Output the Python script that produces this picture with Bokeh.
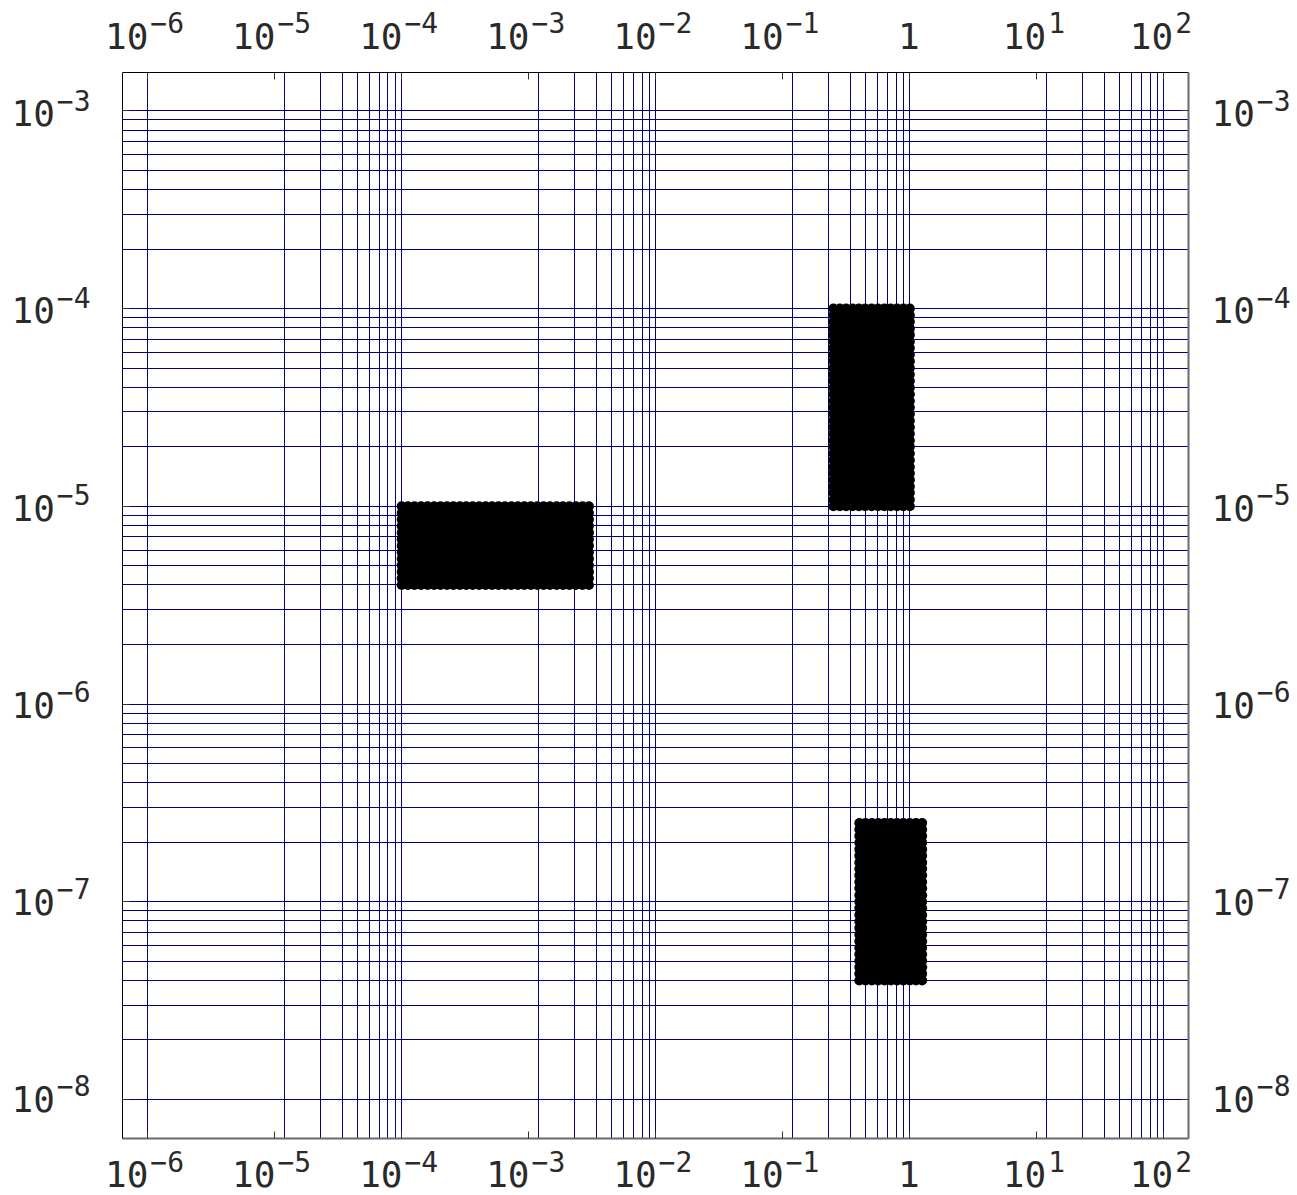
import math

from bokeh.plotting import figure
from bokeh.layouts import column, row
from bokeh.models import Range1d, FixedTicker, LogAxis, ColumnDataSource
from bokeh.core.properties import value
from bokeh.embed import file_html
from bokeh.resources import INLINE

# ---- axis ticks and their labels (base + superscript exponent) ----
x_ticks = [1e-6, 1e-5, 1e-4, 1e-3, 1e-2, 1e-1, 1.0, 1e1, 1e2]
x_label_base = ["10", "10", "10", "10", "10", "10", "1", "10", "10"]
x_label_exp = ["\u22126", "\u22125", "\u22124", "\u22123", "\u22122", "\u22121", "", "1", "2"]

y_ticks = [1e-8, 1e-7, 1e-6, 1e-5, 1e-4, 1e-3]
y_label_base = ["10", "10", "10", "10", "10", "10"]
y_label_exp = ["\u22128", "\u22127", "\u22126", "\u22125", "\u22124", "\u22123"]

# ---- grid line positions ----
x_grid_lines = [1e-6,
                1.2e-5, 2.3e-5, 3.4e-5, 4.5e-5, 5.6e-5, 6.7e-5, 7.8e-5, 8.9e-5, 1e-4,
                1.2e-3, 2.3e-3, 3.4e-3, 4.5e-3, 5.6e-3, 6.7e-3, 7.8e-3, 8.9e-3, 1e-2,
                0.12, 0.23, 0.34, 0.45, 0.56, 0.67, 0.78, 0.89, 1.0,
                12.0, 23.0, 34.0, 45.0, 56.0, 67.0, 78.0, 89.0, 100.0]
y_grid_mantissas = [1, 2, 3, 4, 5, 6, 7, 8, 9]
y_grid_decades = [-8, -7, -6, -5, -4]
y_grid_lines = [m * 10.0 ** e for e in y_grid_decades for m in y_grid_mantissas] + [1e-3]

# ---- point clouds: sampled x and y positions of each cluster ----
a_x = [1.00e-4, 1.12e-4, 1.26e-4, 1.42e-4, 1.60e-4, 1.80e-4, 2.02e-4, 2.27e-4, 2.55e-4, 2.87e-4,
       3.22e-4, 3.62e-4, 4.07e-4, 4.58e-4, 5.15e-4, 5.79e-4, 6.50e-4, 7.31e-4, 8.22e-4, 9.24e-4,
       1.04e-3, 1.17e-3, 1.31e-3, 1.47e-3, 1.66e-3, 1.86e-3, 2.09e-3, 2.35e-3, 2.65e-3, 2.98e-3]
a_y = [4.00e-6, 4.32e-6, 4.66e-6, 5.03e-6, 5.43e-6, 5.86e-6, 6.32e-6, 6.82e-6, 7.36e-6,
       7.95e-6, 8.58e-6, 9.26e-6, 1.00e-5]

b_x = [0.250, 0.281, 0.315, 0.354, 0.397, 0.445, 0.500, 0.561, 0.630, 0.707, 0.794, 0.891, 1.000]
b_y = [1.00e-5, 1.08e-5, 1.17e-5, 1.26e-5, 1.36e-5, 1.47e-5, 1.58e-5, 1.71e-5, 1.85e-5, 2.00e-5,
       2.15e-5, 2.33e-5, 2.51e-5, 2.71e-5, 2.93e-5, 3.16e-5, 3.41e-5, 3.69e-5, 3.98e-5, 4.30e-5,
       4.64e-5, 5.01e-5, 5.41e-5, 5.84e-5, 6.31e-5, 6.81e-5, 7.36e-5, 7.94e-5, 8.58e-5, 9.26e-5,
       1.00e-4]

c_x = [0.400, 0.448, 0.502, 0.563, 0.631, 0.708, 0.793, 0.889, 0.997, 1.117, 1.250]
c_y = [4.00e-8, 4.32e-8, 4.66e-8, 5.03e-8, 5.43e-8, 5.86e-8, 6.32e-8, 6.82e-8, 7.36e-8,
       7.95e-8, 8.58e-8, 9.26e-8, 1.00e-7, 1.08e-7, 1.17e-7, 1.26e-7, 1.36e-7, 1.47e-7,
       1.58e-7, 1.71e-7, 1.84e-7, 1.99e-7, 2.15e-7, 2.32e-7, 2.50e-7]


def cloud(xs, ys):
    return dict(x=[x for y in ys for x in xs], y=[y for y in ys for x in xs])


# ---- page geometry ----
PAGE_W, PAGE_H = 1297, 1195
FRAME = 1066
LEFT_W, TOP_H = 121, 71
MAIN_W = 1 + FRAME + 2
MAIN_H = 1 + FRAME + 2
RIGHT_W = PAGE_W - LEFT_W - MAIN_W
BOT_H = PAGE_H - TOP_H - MAIN_H

X0, X1 = 6.35e-7, 156.0
Y0, Y1 = 6.35e-9, 1.563e-3
LX0, LX1 = math.log10(X0), math.log10(X1)
LY0, LY1 = math.log10(Y0), math.log10(Y1)
PX_PER_DEC_X = FRAME / (LX1 - LX0)
PX_PER_DEC_Y = FRAME / (LY1 - LY0)
FRAME_LEFT = LEFT_W + 1

FONT = "DejaVu Sans Mono"
BASE_PX = 36
EXP_PX = 28
ADV = 0.602          # monospace advance width, in em
DROP = 0.346         # how far the drawn baseline sits below the text anchor, in em
GAP = 2
TEXT = "#2a2a2a"
GRID = "#000080"

# ---- main plot ----
fig = figure(width=MAIN_W, height=MAIN_H,
             x_axis_type="log", y_axis_type="log",
             x_range=Range1d(X0, X1), y_range=Range1d(Y0, Y1),
             output_backend="svg", toolbar_location=None,
             min_border_left=1, min_border_top=1,
             min_border_right=2, min_border_bottom=2)
fig.outline_line_color = None
fig.background_fill_color = "white"
fig.border_fill_color = "white"

fig.add_layout(LogAxis(), "above")
fig.add_layout(LogAxis(), "right")


def style_axis(ax, ticks, line_color, line_width):
    ax.ticker = FixedTicker(ticks=ticks, minor_ticks=[])
    ax.major_label_overrides = {t: "" for t in ticks}
    ax.major_label_text_font_size = "0px"
    ax.major_label_standoff = 0
    ax.major_tick_in = 7
    ax.major_tick_out = 0
    ax.major_tick_line_color = "#333333"
    ax.minor_tick_line_color = None
    ax.axis_line_color = line_color
    ax.axis_line_width = line_width


for ax in fig.below:
    style_axis(ax, x_ticks, "#6a6a6a", 2)
for ax in fig.above:
    style_axis(ax, x_ticks, "black", 1)
for ax in fig.left:
    style_axis(ax, y_ticks, "black", 1)
for ax in fig.right:
    style_axis(ax, y_ticks, "#6a6a6a", 2)

fig.xgrid.ticker = FixedTicker(ticks=x_grid_lines, minor_ticks=[])
fig.ygrid.ticker = FixedTicker(ticks=y_grid_lines, minor_ticks=[])
for g in (fig.xgrid, fig.ygrid):
    g.grid_line_color = GRID
    g.grid_line_width = 1
    g.grid_line_alpha = 1.0
    g.minor_grid_line_color = None

for xs, ys in ((a_x, a_y), (b_x, b_y), (c_x, c_y)):
    fig.scatter("x", "y", source=ColumnDataSource(cloud(xs, ys)), size=10,
                marker="circle", fill_color="black", line_color="black", line_width=0)


# ---- label strips around the plot ----
def strip(width, height, x_range, y_range, x_log=False, y_log=False):
    s = figure(width=width, height=height,
               x_axis_type="log" if x_log else "linear",
               y_axis_type="log" if y_log else "linear",
               x_range=x_range, y_range=y_range,
               x_axis_location=None, y_axis_location=None,
               output_backend="svg", toolbar_location=None,
               min_border=0, min_border_left=0, min_border_right=0,
               min_border_top=0, min_border_bottom=0)
    s.outline_line_color = None
    s.background_fill_color = "white"
    s.border_fill_color = "white"
    s.grid.visible = False
    return s


def put_text(s, xs, ys, texts, dxs, dys, size):
    src = ColumnDataSource(dict(x=xs, y=ys, text=texts, dx=dxs, dy=dys))
    s.text("x", "y", text="text", x_offset="dx", y_offset="dy", source=src,
           text_font=value(FONT), text_font_size=value(f"{size}px"),
           text_color=TEXT, text_align="left", text_baseline="alphabetic")


base_w = lambda b: len(b) * ADV * BASE_PX
exp_w = lambda e: len(e) * ADV * EXP_PX + GAP if e else 0.0

# horizontal strips share the plot's log scale, extended over the whole page width
strip_x = Range1d(10 ** (LX0 - FRAME_LEFT / PX_PER_DEC_X),
                  10 ** (LX0 + (PAGE_W - FRAME_LEFT) / PX_PER_DEC_X))
base_dx = [(-3 if e else -1) - (base_w(b) + exp_w(e)) / 2 for b, e in zip(x_label_base, x_label_exp)]
exp_dx = [d + base_w(b) + GAP for d, b in zip(base_dx, x_label_base)]
zeros = [0] * len(x_ticks)


def x_strip(height, base_line, exp_line):
    """base_line / exp_line: baseline heights above the strip's bottom edge, px."""
    s = strip(PAGE_W, height, strip_x, Range1d(0, height), x_log=True)
    put_text(s, x_ticks, [base_line + DROP * BASE_PX] * len(x_ticks),
             x_label_base, base_dx, zeros, BASE_PX)
    put_text(s, x_ticks, [exp_line + DROP * EXP_PX] * len(x_ticks),
             x_label_exp, exp_dx, zeros, EXP_PX)
    return s


top = x_strip(TOP_H, 23.5, 39.5)
bottom = x_strip(BOT_H, 9.5, 24.5)

# vertical strips share the plot's log scale, extended over the strip height
strip_y = Range1d(10 ** (LY1 - (MAIN_H - 1) / PX_PER_DEC_Y), 10 ** (LY1 + 1 / PX_PER_DEC_Y))
n_y = len(y_ticks)


def y_strip(width, x_start):
    s = strip(width, MAIN_H, Range1d(0, width), strip_y, y_log=True)
    put_text(s, [x_start] * n_y, y_ticks, y_label_base,
             [0] * n_y, [14 - DROP * BASE_PX] * n_y, BASE_PX)
    put_text(s, [x_start + base_w("10") + GAP] * n_y, y_ticks, y_label_exp,
             [0] * n_y, [-2 - DROP * EXP_PX] * n_y, EXP_PX)
    return s


left = y_strip(LEFT_W, 11)
right = y_strip(RIGHT_W, 21)

p = column(top, row(left, fig, right), bottom)

open("out.html", "w").write(file_html(p, INLINE))
